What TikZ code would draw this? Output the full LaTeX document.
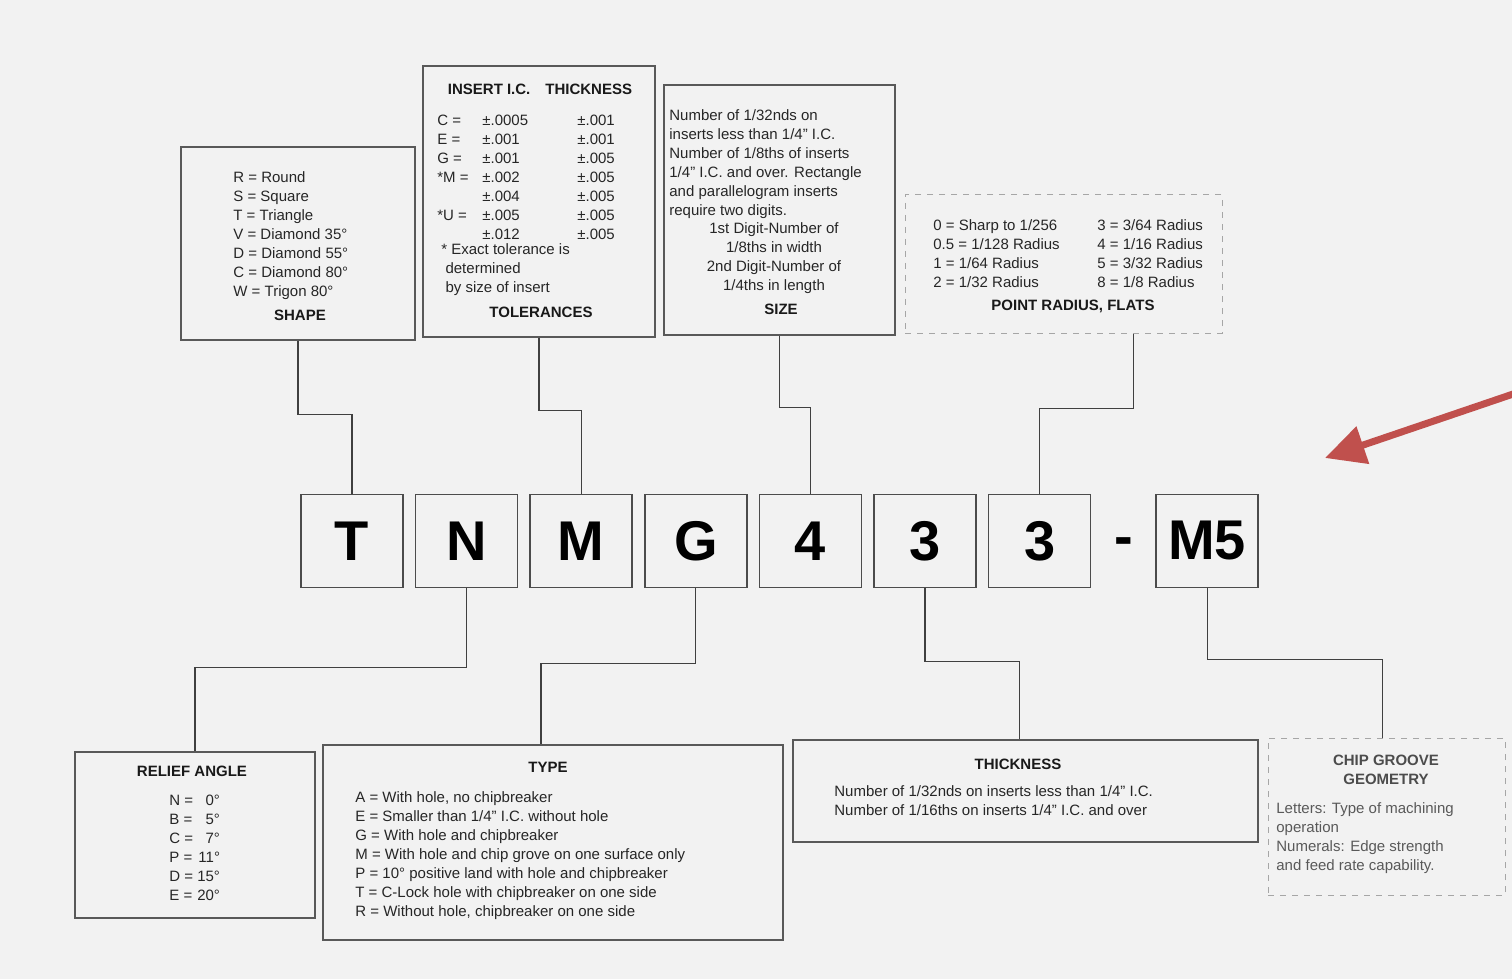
\documentclass[tikz,border=0pt]{standalone}
\usepackage{fontspec}
\setmainfont{Liberation Sans}
\usetikzlibrary{positioning,arrows.meta}
\definecolor{paper}{RGB}{242,242,242}
\definecolor{arrowred}{RGB}{192,80,77}

\begin{document}
\begin{tikzpicture}[x=0.5pt, y=-0.5pt,
    node distance=5.5pt,
    letter/.style={draw=black!70, line width=0.8pt, minimum width=51pt, minimum height=46.5pt,
        font=\fontsize{28}{30}\selectfont\bfseries},
    panel/.style={draw=black!65, line width=0.6pt},
    faint/.style={draw=black!35, line width=0.5pt, dashed},
    boxtext/.style={inner sep=0pt, anchor=north west, align=left, text=black!85,
        font=\fontsize{7.5}{9.5}\selectfont},
    heading/.style={inner sep=0pt, text=black!90, font=\fontsize{7.5}{9.5}\selectfont\bfseries},
    link/.style={draw=black!75, line width=0.6pt},
    redarrow/.style={draw=arrowred, line width=3.5pt, -{Triangle[length=20pt,width=19pt]}}]
    \useasboundingbox (0,0) rectangle (1512,979);
    \fill[paper] (0,0) rectangle (1512,979);

    % code letters
    \node[letter] (T) at (352,541) {T};
    \node[letter] (N) [right=of T] {N};
    \node[letter] (M) [right=of N] {M};
    \node[letter] (G) [right=of M] {G};
    \node[letter] (4) [right=of G] {4};
    \node[letter] (3a) [right=of 4] {3};
    \node[letter] (3b) [right=of 3a] {3};
    \node[letter] (M5) [right=32pt of 3b] {M5};
    \path (3b) -- node[yshift=-3pt, font=\fontsize{28}{30}\selectfont\bfseries] (dash) {-} (M5);

    % upper panels
    \node[panel, minimum width=117pt, minimum height=96.5pt] (shape) at (298,243.5) {};
    \node[boxtext] (shapetxt) at (233,171) {R = Round\\S = Square\\T = Triangle\\V = Diamond 35°\\D = Diamond 55°\\C = Diamond 80°\\W = Trigon 80°};
    \node[heading] (shapehd) at (300,315) {SHAPE};

    \node[panel, minimum width=116pt, minimum height=135.5pt] (tol) at (539,201.5) {};
    \node[heading] (tolhd) at (540,89) {INSERT I.C.\quad THICKNESS};
    \node[boxtext] (toltab) at (437,112) {\begin{tabular}{@{}p{22.5pt}@{}p{47.5pt}@{}l@{}}
        C = & ±.0005 & ±.001\\
        E = & ±.001 & ±.001\\
        G = & ±.001 & ±.005\\
        {*}M = & ±.002 & ±.005\\
         & ±.004 & ±.005\\
        {*}U = & ±.005 & ±.005\\
         & ±.012 & ±.005
    \end{tabular}};
    \node[boxtext] (tolnote) at (441,243) {* Exact tolerance is\\\ determined\\\ by size of insert};
    \node[heading] (tolttl) at (541,312) {TOLERANCES};

    \node[panel, minimum width=115.5pt, minimum height=125pt] (size) at (779.5,210) {};
    \node[boxtext] (sizetxt) at (669,109) {Number of 1/32nds on\\inserts less than 1/4" I.C.\\Number of 1/8ths of inserts\\1/4" I.C. and over. Rectangle\\and parallelogram inserts\\require two digits.};
    \node[boxtext, anchor=north, align=center] (sizedig) at (774,222) {1st Digit-Number of\\1/8ths in width\\2nd Digit-Number of\\1/4ths in length};
    \node[heading] (sizehd) at (781,309) {SIZE};

    \node[faint, minimum width=158.5pt, minimum height=69pt] (radius) at (1063.5,264) {};
    \node[boxtext] (radleft) at (933,219) {0 = Sharp to 1/256\\0.5 = 1/128 Radius\\1 = 1/64 Radius\\2 = 1/32 Radius};
    \node[boxtext] (radright) at (1097,219) {3 = 3/64 Radius\\4 = 1/16 Radius\\5 = 3/32 Radius\\8 = 1/8 Radius};
    \node[heading] (radhd) at (1073,306) {POINT RADIUS, FLATS};

    % lower panels
    \node[panel, minimum width=120pt, minimum height=83pt] (relief) at (195,835) {};
    \node[heading] (reliefhd) at (192,771) {RELIEF ANGLE};
    \node[boxtext] (relieftab) at (169,792) {\begin{tabular}{@{}l@{\ }r@{}}
        N = & 0°\\ B = & 5°\\ C = & 7°\\ P = & 11°\\ D = & 15°\\ E = & 20°
    \end{tabular}};

    \node[panel, minimum width=230pt, minimum height=97.5pt] (type) at (553,842.5) {};
    \node[heading] (typehd) at (548,767) {TYPE};
    \node[boxtext] (typetxt) at (355,791) {A = With hole, no chipbreaker\\E = Smaller than 1/4" I.C. without hole\\G = With hole and chipbreaker\\M = With hole and chip grove on one surface only\\P = 10° positive land with hole and chipbreaker\\T = C-Lock hole with chipbreaker on one side\\R = Without hole, chipbreaker on one side};

    \node[panel, minimum width=232.5pt, minimum height=51pt] (thick) at (1025.5,791) {};
    \node[heading] (thickhd) at (1018,764) {THICKNESS};
    \node[boxtext] (thicktxt) at (834,785) {Number of 1/32nds on inserts less than 1/4" I.C.\\Number of 1/16ths on inserts 1/4" I.C. and over};

    \node[faint, minimum width=118.5pt, minimum height=78.5pt] (chip) at (1386.5,816.5) {};
    \node[heading, align=center, text=black!70] (chiphd) at (1386,770) {CHIP GROOVE\\GEOMETRY};
    \node[boxtext, text=black!65] (chiptxt) at (1276,802) {Letters: Type of machining\\operation\\Numerals: Edge strength\\and feed rate capability.};

    % connectors
    \draw[link] (shape.south) -- ++(0,74) -| (T.north);
    \draw[link] (tol.south) -- ++(0,73) -| (M.north);
    \draw[link] (size.south) -- ++(0,72) -| (4.north);
    \draw[link] ([xshift=35pt]radius.south) -- ++(0,75) -| (3b.north);
    \draw[link] (N.south) -- ++(0,79.5) -| (relief.north);
    \draw[link] (G.south) -- ++(0,75.5) -| ([xshift=-6pt]type.north);
    \draw[link] (3a.south) -- ++(0,73.5) -| ([xshift=-3pt]thick.north);
    \draw[link] (M5.south) -- ++(0,71.5) -| ([xshift=-2pt]chip.north);

    \coordinate (arrowtail) at (1522,391);
    \coordinate (arrowtip) at (1325,458);
    \draw[redarrow] (arrowtail) -- (arrowtip);
\end{tikzpicture}
\end{document}
